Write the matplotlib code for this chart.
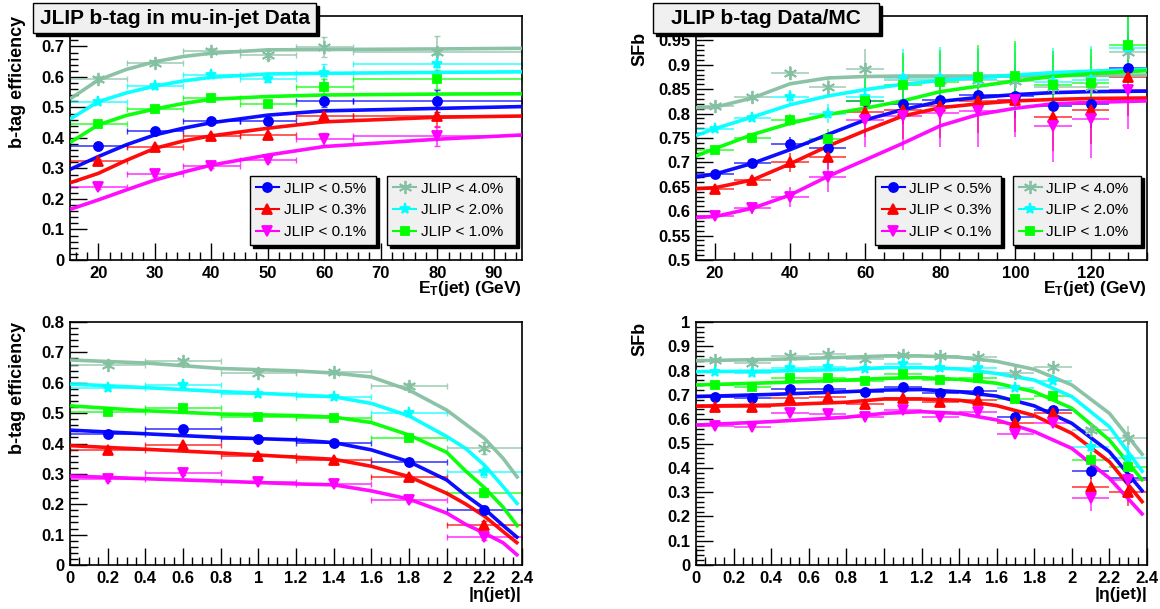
"""JLIP b-tag efficiency and data/MC scale factors vs jet ET and |eta|."""

import matplotlib

matplotlib.use("Agg")
import matplotlib.pyplot as plt
from matplotlib.lines import Line2D
from matplotlib.patches import Rectangle
from matplotlib.ticker import FuncFormatter, MultipleLocator

plt.rcParams["font.family"] = ["Liberation Sans", "DejaVu Sans"]
plt.rcParams["font.weight"] = "bold"
plt.rcParams["mathtext.fontset"] = "custom"
plt.rcParams["mathtext.rm"] = "Liberation Sans:bold"
plt.rcParams["mathtext.it"] = "Liberation Sans:bold"
plt.rcParams["mathtext.bf"] = "Liberation Sans:bold"

# operating points, row order used by every table below
cuts = ["JLIP < 0.5%", "JLIP < 0.3%", "JLIP < 0.1%",
        "JLIP < 4.0%", "JLIP < 2.0%", "JLIP < 1.0%"]

# --- efficiency vs ET (mu-in-jet data) ---
et_bins = [20, 30, 40, 50, 60, 80]
et_bin_half = [5, 5, 5, 5, 5, 15]
eff_et = [
    [0.374, 0.423, 0.456, 0.456, 0.521, 0.521],
    [0.326, 0.372, 0.407, 0.409, 0.472, 0.472],
    [0.240, 0.282, 0.308, 0.328, 0.396, 0.407],
    [0.593, 0.647, 0.685, 0.672, 0.699, 0.683],
    [0.519, 0.570, 0.607, 0.592, 0.614, 0.643],
    [0.445, 0.495, 0.530, 0.510, 0.568, 0.592],
]
eff_et_err = [
    [0.006, 0.006, 0.006, 0.008, 0.020, 0.035],
    [0.006, 0.006, 0.006, 0.008, 0.020, 0.035],
    [0.006, 0.006, 0.006, 0.008, 0.020, 0.033],
    [0.010, 0.008, 0.010, 0.012, 0.033, 0.050],
    [0.008, 0.008, 0.010, 0.010, 0.030, 0.030],
    [0.008, 0.008, 0.008, 0.010, 0.025, 0.030],
]
eff_et_fit_x = [15, 20, 25, 30, 35, 40, 50, 60, 80, 95]
eff_et_fit = [
    [0.297, 0.339, 0.378, 0.410, 0.432, 0.450, 0.475, 0.489, 0.497, 0.503],
    [0.253, 0.284, 0.327, 0.366, 0.390, 0.407, 0.432, 0.453, 0.468, 0.472],
    [0.166, 0.197, 0.230, 0.262, 0.288, 0.311, 0.344, 0.372, 0.396, 0.410],
    [0.528, 0.590, 0.625, 0.650, 0.667, 0.678, 0.689, 0.690, 0.692, 0.694],
    [0.462, 0.519, 0.548, 0.570, 0.587, 0.599, 0.610, 0.612, 0.615, 0.617],
    [0.385, 0.443, 0.474, 0.495, 0.513, 0.527, 0.536, 0.541, 0.544, 0.545],
]

# --- SFb vs ET ---
sf_et_bins = [20, 30, 40, 50, 60, 70, 80, 90, 100, 110, 120, 130]
sf_et_bin_half = [5] * 12
sf_et = [
    [0.677, 0.698, 0.738, 0.730, 0.825, 0.819, 0.828, 0.838, 0.837, 0.816, 0.820, 0.893],
    [0.646, 0.663, 0.700, 0.712, 0.803, 0.807, 0.816, 0.825, 0.828, 0.794, 0.807, 0.875],
    [0.591, 0.606, 0.629, 0.670, 0.786, 0.796, 0.801, 0.806, 0.827, 0.775, 0.789, 0.849],
    [0.815, 0.834, 0.883, 0.855, 0.892, 0.869, 0.868, 0.868, 0.866, 0.855, 0.854, 0.927],
    [0.768, 0.792, 0.834, 0.800, 0.835, 0.873, 0.872, 0.870, 0.875, 0.865, 0.868, 0.935],
    [0.726, 0.751, 0.787, 0.748, 0.826, 0.859, 0.865, 0.875, 0.878, 0.858, 0.862, 0.940],
]
sf_et_err = [
    [0.006, 0.008, 0.015, 0.020, 0.030, 0.040, 0.040, 0.045, 0.045, 0.050, 0.050, 0.070],
    [0.008, 0.010, 0.020, 0.025, 0.050, 0.060, 0.065, 0.065, 0.065, 0.070, 0.070, 0.080],
    [0.010, 0.012, 0.020, 0.030, 0.055, 0.070, 0.070, 0.075, 0.075, 0.075, 0.080, 0.080],
    [0.008, 0.010, 0.015, 0.020, 0.040, 0.050, 0.055, 0.060, 0.060, 0.065, 0.065, 0.070],
    [0.006, 0.008, 0.015, 0.020, 0.050, 0.060, 0.065, 0.065, 0.070, 0.070, 0.070, 0.080],
    [0.006, 0.008, 0.012, 0.020, 0.050, 0.065, 0.065, 0.065, 0.070, 0.070, 0.070, 0.090],
]
sf_et_fit_x = [15, 20, 30, 40, 50, 60, 70, 80, 90, 100, 110, 120, 135]
sf_et_fit = [
    [0.670, 0.676, 0.698, 0.726, 0.757, 0.787, 0.808, 0.825, 0.833, 0.839, 0.843, 0.845, 0.846],
    [0.646, 0.648, 0.664, 0.697, 0.733, 0.765, 0.795, 0.812, 0.820, 0.826, 0.829, 0.831, 0.832],
    [0.587, 0.589, 0.606, 0.633, 0.671, 0.705, 0.739, 0.775, 0.798, 0.811, 0.820, 0.823, 0.826],
    [0.812, 0.813, 0.832, 0.861, 0.873, 0.876, 0.877, 0.877, 0.877, 0.877, 0.878, 0.878, 0.879],
    [0.755, 0.769, 0.793, 0.818, 0.836, 0.849, 0.860, 0.868, 0.874, 0.879, 0.884, 0.887, 0.891],
    [0.713, 0.728, 0.757, 0.780, 0.798, 0.811, 0.826, 0.845, 0.856, 0.867, 0.876, 0.882, 0.888],
]

# --- efficiency vs |eta| ---
eta_bins = [0.2, 0.6, 1.0, 1.4, 1.8, 2.2]
eta_bin_half = [0.2] * 6
eff_eta = [
    [0.431, 0.447, 0.414, 0.401, 0.338, 0.181],
    [0.379, 0.395, 0.359, 0.346, 0.291, 0.132],
    [0.283, 0.302, 0.274, 0.266, 0.214, 0.093],
    [0.658, 0.672, 0.633, 0.636, 0.590, 0.386],
    [0.582, 0.593, 0.562, 0.554, 0.499, 0.305],
    [0.503, 0.518, 0.488, 0.483, 0.419, 0.238],
]
eff_eta_err = [
    [0.005, 0.005, 0.005, 0.005, 0.006, 0.012],
    [0.005, 0.005, 0.005, 0.005, 0.006, 0.012],
    [0.005, 0.005, 0.005, 0.005, 0.006, 0.010],
    [0.006, 0.006, 0.006, 0.006, 0.008, 0.020],
    [0.006, 0.006, 0.006, 0.006, 0.008, 0.015],
    [0.006, 0.006, 0.006, 0.006, 0.008, 0.015],
]
eff_eta_fit_x = [0, 0.4, 0.8, 1.2, 1.4, 1.6, 1.8, 2.0, 2.1, 2.2, 2.3, 2.38]
eff_eta_fit = [
    [0.444, 0.432, 0.420, 0.412, 0.403, 0.379, 0.340, 0.280, 0.230, 0.185, 0.130, 0.088],
    [0.393, 0.381, 0.369, 0.355, 0.348, 0.325, 0.291, 0.236, 0.201, 0.161, 0.110, 0.070],
    [0.293, 0.284, 0.276, 0.267, 0.264, 0.244, 0.217, 0.171, 0.134, 0.105, 0.073, 0.030],
    [0.675, 0.665, 0.647, 0.639, 0.632, 0.619, 0.576, 0.510, 0.464, 0.417, 0.351, 0.285],
    [0.596, 0.584, 0.571, 0.560, 0.554, 0.532, 0.491, 0.423, 0.384, 0.329, 0.258, 0.198],
    [0.524, 0.508, 0.497, 0.492, 0.487, 0.469, 0.428, 0.371, 0.310, 0.255, 0.190, 0.125],
]

# --- SFb vs |eta| ---
sf_eta_bins = [0.1, 0.3, 0.5, 0.7, 0.9, 1.1, 1.3, 1.5, 1.7, 1.9, 2.1, 2.3]
sf_eta_bin_half = [0.1] * 12
sf_eta = [
    [0.693, 0.686, 0.723, 0.724, 0.711, 0.734, 0.707, 0.716, 0.610, 0.638, 0.388, 0.357],
    [0.652, 0.649, 0.689, 0.693, 0.663, 0.689, 0.670, 0.679, 0.586, 0.624, 0.320, 0.302],
    [0.573, 0.569, 0.624, 0.621, 0.608, 0.638, 0.608, 0.631, 0.539, 0.583, 0.274, 0.350],
    [0.844, 0.833, 0.860, 0.868, 0.846, 0.864, 0.860, 0.858, 0.791, 0.816, 0.556, 0.521],
    [0.796, 0.789, 0.812, 0.816, 0.807, 0.826, 0.809, 0.809, 0.727, 0.757, 0.487, 0.439],
    [0.741, 0.734, 0.768, 0.768, 0.757, 0.786, 0.761, 0.771, 0.682, 0.697, 0.432, 0.405],
]
sf_eta_err = [
    [0.008, 0.008, 0.008, 0.008, 0.008, 0.008, 0.008, 0.008, 0.010, 0.012, 0.035, 0.050],
    [0.010, 0.010, 0.010, 0.010, 0.010, 0.010, 0.010, 0.010, 0.012, 0.015, 0.045, 0.060],
    [0.010, 0.010, 0.010, 0.010, 0.010, 0.010, 0.010, 0.010, 0.015, 0.018, 0.050, 0.090],
    [0.008, 0.008, 0.008, 0.008, 0.008, 0.008, 0.008, 0.008, 0.010, 0.012, 0.030, 0.050],
    [0.008, 0.008, 0.008, 0.008, 0.008, 0.008, 0.008, 0.008, 0.010, 0.012, 0.035, 0.050],
    [0.008, 0.008, 0.008, 0.008, 0.008, 0.008, 0.008, 0.008, 0.010, 0.012, 0.035, 0.055],
]
sf_eta_fit_x = [0, 0.4, 0.8, 1.0, 1.2, 1.4, 1.6, 1.8, 2.0, 2.2, 2.38]
sf_eta_fit = [
    [0.693, 0.702, 0.713, 0.720, 0.722, 0.713, 0.695, 0.655, 0.583, 0.466, 0.300],
    [0.654, 0.658, 0.670, 0.683, 0.683, 0.678, 0.656, 0.615, 0.542, 0.425, 0.255],
    [0.576, 0.590, 0.608, 0.624, 0.631, 0.624, 0.597, 0.549, 0.480, 0.357, 0.205],
    [0.841, 0.846, 0.855, 0.860, 0.860, 0.855, 0.838, 0.805, 0.741, 0.624, 0.450],
    [0.796, 0.798, 0.805, 0.812, 0.812, 0.807, 0.788, 0.761, 0.693, 0.569, 0.380],
    [0.741, 0.750, 0.761, 0.768, 0.771, 0.764, 0.748, 0.713, 0.645, 0.514, 0.345],
]

colors = ["#0000ff", "#ff0000", "#ff00ff", "#86c0a2", "#00ffff", "#00ff00"]
markers = ["o", "^", "v", (6, 2, 0), "*", "s"]
msizes = [6.5, 7, 7, 9.5, 8, 6]

W, H = 1160, 609


def px_axes(left, top, right, bottom):
    """Axes rectangle from pixel edges (origin top-left)."""
    return [left / W, 1 - bottom / H, (right - left) / W, (bottom - top) / H]


def draw_series(ax, x, xerr, values, errors, fit_x, fits, capsize):
    for i in range(len(cuts)):
        ax.errorbar(x, values[i], xerr=xerr, yerr=errors[i], fmt="none",
                    ecolor=colors[i], elinewidth=1.2, capsize=capsize,
                    alpha=0.75, zorder=2)
        ax.plot(fit_x, fits[i], color=colors[i], lw=2.6, alpha=0.95,
                solid_capstyle="butt", zorder=3)
        ax.plot(x, values[i], ls="none", marker=markers[i], ms=msizes[i],
                color=colors[i], mec=colors[i], mew=1.3, zorder=4)


def style_axes(ax, xlim, ylim, xmaj, xmin, ymaj, ymin, hide_top_label=False):
    ax.set_xlim(*xlim)
    ax.set_ylim(*ylim)
    ax.xaxis.set_major_locator(MultipleLocator(xmaj))
    ax.xaxis.set_minor_locator(MultipleLocator(xmin))
    ax.yaxis.set_major_locator(MultipleLocator(ymaj))
    ax.yaxis.set_minor_locator(MultipleLocator(ymin))
    ax.xaxis.set_major_formatter(FuncFormatter(lambda v, p: f"{v:g}"))
    top = ylim[1]

    def yfmt(v, p):
        # the top label sits under the title box in the original
        if hide_top_label and abs(v - top) < 1e-9:
            return ""
        return f"{v:g}"

    ax.yaxis.set_major_formatter(FuncFormatter(yfmt))
    ax.tick_params(which="both", direction="in", top=False, right=False,
                   labelsize=12, width=1.0)
    ax.tick_params(which="major", length=12, pad=4)
    ax.tick_params(which="minor", length=6)
    for sp in ax.spines.values():
        sp.set_linewidth(1.2)


def add_legends(ax):
    handles = [Line2D([], [], color=colors[i], marker=markers[i],
                      ms=msizes[i], mew=1.3, lw=1.5, label=cuts[i])
               for i in range(len(cuts))]
    boxes = [(0.398, 0.061, 0.279, 0.287), (0.702, 0.061, 0.285, 0.287)]
    legs = []
    for k, box in enumerate(boxes):
        leg = ax.legend(handles=handles[3 * k:3 * k + 3], loc="lower left",
                        bbox_to_anchor=box, mode="expand", borderaxespad=0,
                        fancybox=False, shadow={"color": "black", "alpha": 1},
                        prop={"size": 11, "weight": "normal"},
                        labelspacing=0.5, borderpad=0.4, handlelength=1.5,
                        handletextpad=0.3, framealpha=1)
        leg.get_frame().set_facecolor("#f0f0f0")
        leg.get_frame().set_edgecolor("black")
        leg.get_frame().set_linewidth(1.0)
        legs.append(leg)
    ax.add_artist(legs[0])


def title_box(fig, left, top, right, bottom, text):
    x0, y0 = left / W, 1 - bottom / H
    w, h = (right - left) / W, (bottom - top) / H
    fig.patches.append(Rectangle((x0 + 3 / W, y0 - 3 / H), w, h,
                                 transform=fig.transFigure, color="black",
                                 zorder=10))
    fig.patches.append(Rectangle((x0, y0), w, h, transform=fig.transFigure,
                                 facecolor="#f0f0f0", edgecolor="black",
                                 lw=1.0, zorder=11))
    fig.text(x0 + w / 2, y0 + h / 2, text, ha="center", va="center",
             fontsize=15, fontweight="bold", zorder=12)


fig = plt.figure(figsize=(W / 100, H / 100), dpi=100)

ax1 = fig.add_axes(px_axes(70, 16, 522, 260))
ax2 = fig.add_axes(px_axes(696, 16, 1147, 260))
ax3 = fig.add_axes(px_axes(70, 322, 522, 565))
ax4 = fig.add_axes(px_axes(696, 322, 1147, 565))

draw_series(ax1, et_bins, et_bin_half, eff_et, eff_et_err,
            eff_et_fit_x, eff_et_fit, 2)
style_axes(ax1, (15, 95), (0, 0.8), 10, 2, 0.1, 0.02, hide_top_label=True)
add_legends(ax1)

draw_series(ax2, sf_et_bins, sf_et_bin_half, sf_et, sf_et_err,
            sf_et_fit_x, sf_et_fit, 0)
style_axes(ax2, (15, 135), (0.5, 1.0), 20, 5, 0.05, 0.01, hide_top_label=True)
add_legends(ax2)

draw_series(ax3, eta_bins, eta_bin_half, eff_eta, eff_eta_err,
            eff_eta_fit_x, eff_eta_fit, 2)
style_axes(ax3, (0, 2.4), (0, 0.8), 0.2, 0.05, 0.1, 0.02)

draw_series(ax4, sf_eta_bins, sf_eta_bin_half, sf_eta, sf_eta_err,
            sf_eta_fit_x, sf_eta_fit, 0)
style_axes(ax4, (0, 2.4), (0, 1.0), 0.2, 0.05, 0.1, 0.02)

# axis titles, ROOT style: y at the top, x at the right
et_label = r"E$_\mathrm{T}$(jet) (GeV)"
eta_label = "|\u03b7(jet)|"
for ax in (ax1, ax2):
    ax.text(1.0, -0.118, et_label, transform=ax.transAxes, ha="right",
            va="center", fontsize=12.5)
for ax in (ax3, ax4):
    ax.text(1.0, -0.123, eta_label, transform=ax.transAxes, ha="right",
            va="center", fontsize=12.5)
ax1.text(-0.117, 1.0, "b-tag efficiency", transform=ax1.transAxes,
         rotation=90, ha="center", va="top", fontsize=13)
ax3.text(-0.117, 1.0, "b-tag efficiency", transform=ax3.transAxes,
         rotation=90, ha="center", va="top", fontsize=13)
ax2.text(-0.124, 0.934, "SFb", transform=ax2.transAxes,
         rotation=90, ha="center", va="top", fontsize=13)
ax4.text(-0.124, 1.0, "SFb", transform=ax4.transAxes,
         rotation=90, ha="center", va="top", fontsize=13)

title_box(fig, 33, 3, 316, 33, "JLIP b-tag in mu-in-jet Data")
title_box(fig, 653, 3, 879, 33, "JLIP b-tag Data/MC")

fig.savefig("out.png", dpi=100)
